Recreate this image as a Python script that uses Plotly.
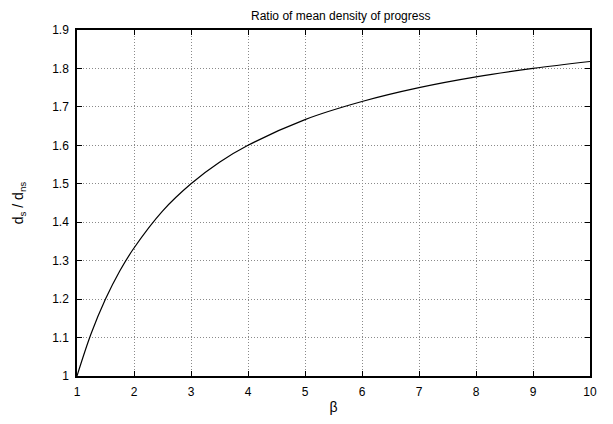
import plotly.graph_objects as go

beta = [1, 1.25, 1.5, 1.75, 2, 2.5, 3, 3.5, 4, 5, 6, 7, 8, 9, 10]
ratio = [1.0, 1.111, 1.2, 1.273, 1.333, 1.429, 1.5, 1.556, 1.6, 1.667, 1.714, 1.75, 1.778, 1.8, 1.818]

x_ticks = [1, 2, 3, 4, 5, 6, 7, 8, 9, 10]
y_ticks = [1, 1.1, 1.2, 1.3, 1.4, 1.5, 1.6, 1.7, 1.8, 1.9]

fig = go.Figure()
fig.add_trace(go.Scatter(
    x=beta, y=ratio, mode="lines", line=dict(color="black", width=1.2, shape="spline"),
    showlegend=False,
))

axis_style = dict(
    showline=True, linecolor="black", linewidth=1.5, mirror="allticks",
    ticks="inside", ticklen=5, tickcolor="black", tickwidth=1,
    showgrid=True, gridcolor="#8a8a8a", griddash="1px,2px", gridwidth=1,
    zeroline=False, tickfont=dict(size=12, color="black"), ticklabelstandoff=4,
    automargin=False,
)

fig.update_layout(
    width=605, height=416,
    margin=dict(l=69, r=23, t=22, b=48),
    paper_bgcolor="white", plot_bgcolor="white",
    font=dict(family="Liberation Sans, Arial, sans-serif", size=12, color="black"),
    title=dict(text="Ratio of mean density of progress", x=0.55, xanchor="center",
               y=0.992, yanchor="top", font=dict(size=12)),
    xaxis=dict(range=[1, 10], tickvals=x_ticks, ticktext=[str(v) for v in x_ticks],
               title=dict(text="β", standoff=4), **axis_style),
    yaxis=dict(range=[1, 1.9], tickvals=y_ticks, ticktext=["1", "1.1", "1.2", "1.3", "1.4", "1.5", "1.6", "1.7", "1.8", "1.9"],
               title=dict(text="d<sub>s</sub> / d<sub>ns</sub>", standoff=25), **axis_style),
)

fig.write_html("out.html")
